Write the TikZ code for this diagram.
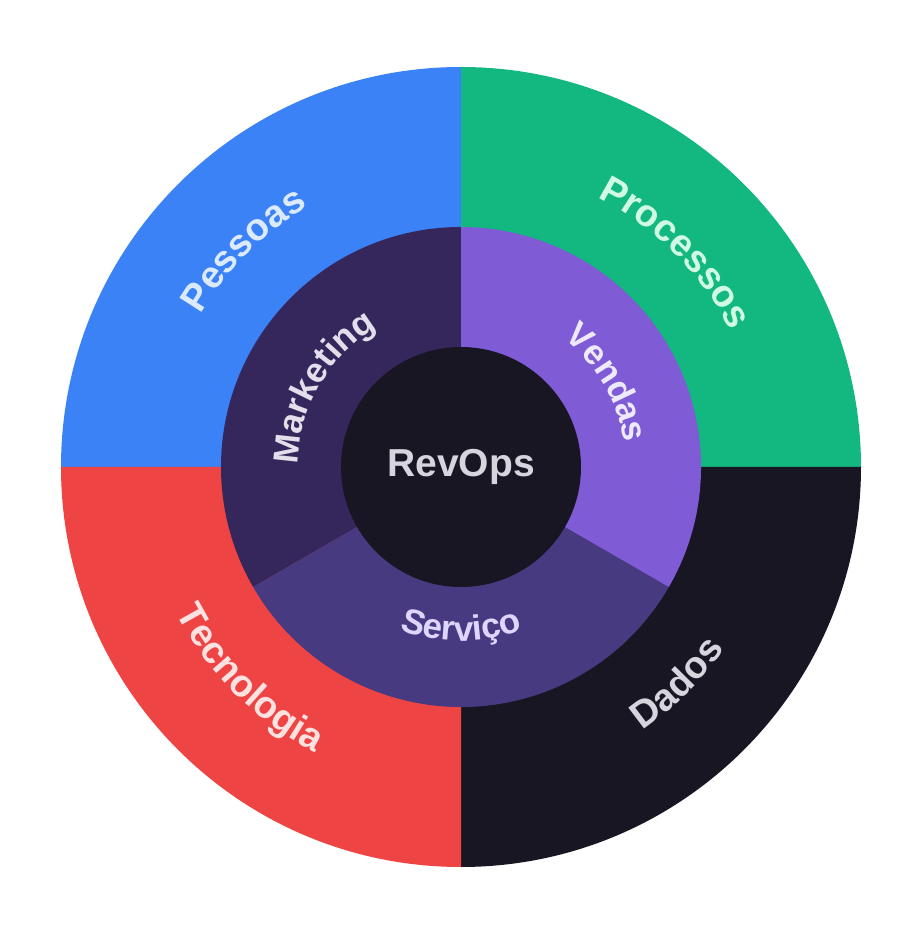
\documentclass[tikz,border=0pt]{standalone}
\usepackage{fontspec}
\setmainfont{Liberation Sans}
\usetikzlibrary{decorations.text}
\definecolor{cBlue}{HTML}{3B82F6}
\definecolor{cGreen}{HTML}{12B880}
\definecolor{cRed}{HTML}{EF4444}
\definecolor{cDark}{HTML}{191624}
\definecolor{cMkt}{HTML}{35265C}
\definecolor{cVen}{HTML}{7F5BD5}
\definecolor{cSer}{HTML}{483A80}
\definecolor{tBlue}{HTML}{DBEAFE}
\definecolor{tGreen}{HTML}{D1FAE5}
\definecolor{tRed}{HTML}{FEE2E2}
\definecolor{tGray}{HTML}{D6D4DC}
\definecolor{tMkt}{HTML}{E2DEEC}
\definecolor{tVen}{HTML}{EDE9FE}
\definecolor{tSer}{HTML}{DDD6FE}
\newcommand{\toplabel}[5]{%
  \path[decorate, decoration={text along path, text align=center, text color=#4,
    text={|\fontsize{#3}{#3}\selectfont\bfseries|#5}}]
    ({#1+60}:#2) arc[start angle={#1+60}, end angle={#1-60}, radius=#2];}
\newcommand{\botlabel}[5]{%
  \path[decorate, decoration={text along path, text align=center, text color=#4,
    text={|\fontsize{#3}{#3}\selectfont\bfseries|#5}}]
    ({#1-60}:#2) arc[start angle={#1-60}, end angle={#1+60}, radius=#2];}
\begin{document}
\begin{tikzpicture}
\useasboundingbox[fill=white] (-461pt,-475pt) rectangle (462pt,467pt);
% outer quadrants
\fill[cBlue]  (0,0) -- (90:400pt) arc[start angle=90, end angle=180, radius=400pt] -- cycle;
\fill[cGreen] (0,0) -- (0:400pt) arc[start angle=0, end angle=90, radius=400pt] -- cycle;
\fill[cDark]  (0,0) -- (270:400pt) arc[start angle=270, end angle=360, radius=400pt] -- cycle;
\fill[cRed]   (0,0) -- (180:400pt) arc[start angle=180, end angle=270, radius=400pt] -- cycle;
% middle ring
\fill[cMkt] (0,0) -- (90:240pt) arc[start angle=90, end angle=210, radius=240pt] -- cycle;
\fill[cSer] (0,0) -- (210:240pt) arc[start angle=210, end angle=330, radius=240pt] -- cycle;
\fill[cVen] (0,0) -- (330:240pt) arc[start angle=330, end angle=450, radius=240pt] -- cycle;
% core
\fill[cDark] (0,0) circle[radius=120pt];
\node[font=\fontsize{39}{41}\selectfont\bfseries, text=tGray] (core) at (0,0) {RevOps};
% labels
\toplabel{135}{302pt}{38}{tBlue}{Pessoas}
\toplabel{45}{302pt}{38}{tGreen}{Processos}
\botlabel{225}{320pt}{38}{tRed}{Tecnologia}
\botlabel{-45}{320pt}{38}{tGray}{Dados}
\toplabel{150}{163pt}{35}{tMkt}{Marketing}
\toplabel{30}{165pt}{35}{tVen}{Vendas}
\botlabel{270}{174pt}{35}{tSer}{Serviço}
\end{tikzpicture}
\end{document}
